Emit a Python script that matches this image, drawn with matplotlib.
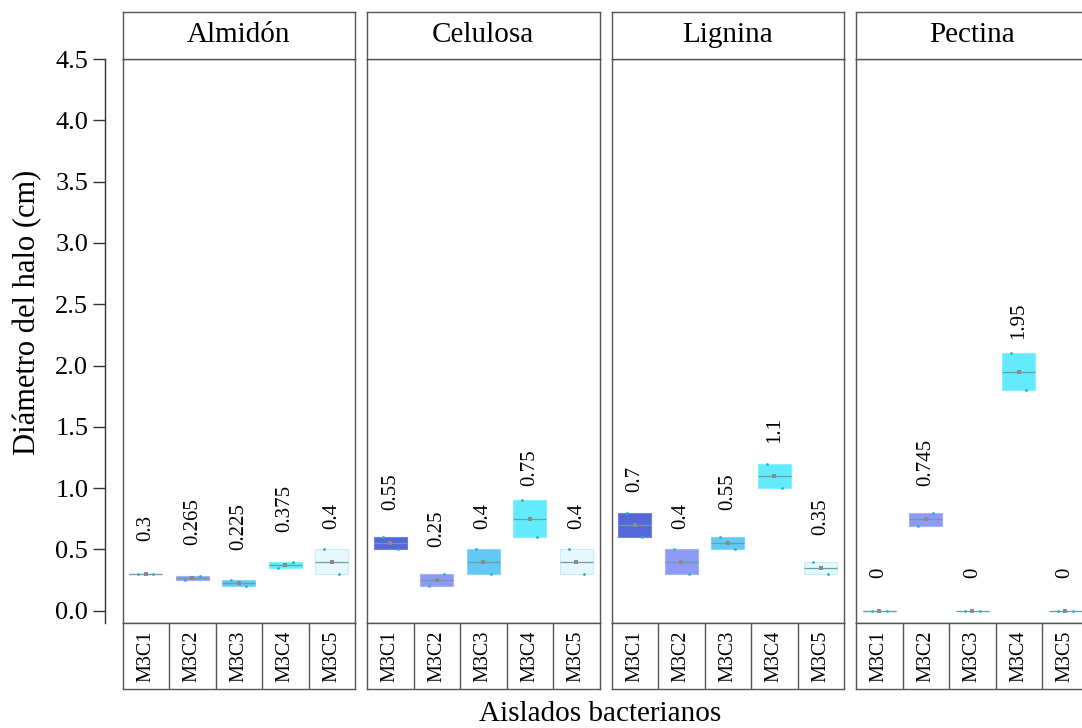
import numpy as np
import matplotlib
matplotlib.use("Agg")
import matplotlib.pyplot as plt

plt.rcParams["font.family"] = ["Liberation Serif", "DejaVu Serif"]

# Substrates (facets) and bacterial isolates
substrates = ["Almidón", "Celulosa", "Lignina", "Pectina"]
isolates = ["M3C1", "M3C2", "M3C3", "M3C4", "M3C5"]

# Halo diameter (cm), two replicates per isolate
rep1 = {
    "Almidón":  [0.30, 0.25, 0.25, 0.35, 0.50],
    "Celulosa": [0.60, 0.20, 0.50, 0.90, 0.50],
    "Lignina":  [0.80, 0.50, 0.60, 1.20, 0.40],
    "Pectina":  [0.00, 0.69, 0.00, 2.10, 0.00],
}
rep2 = {
    "Almidón":  [0.30, 0.28, 0.20, 0.40, 0.30],
    "Celulosa": [0.50, 0.30, 0.30, 0.60, 0.30],
    "Lignina":  [0.60, 0.30, 0.50, 1.00, 0.30],
    "Pectina":  [0.00, 0.80, 0.00, 1.80, 0.00],
}

y_ticks = [0.0, 0.5, 1.0, 1.5, 2.0, 2.5, 3.0, 3.5, 4.0, 4.5]

# Styling
fills = ["#5567d8", "#8d9bf5", "#62c9f4", "#62ebfd", "#e6f8fd"]
edges = ["#7381e0", "#a6b1f6", "#86d5f5", "#8aeffd", "#c2effb"]
median_col = "#6a9ea4"
mean_col = "#8a8a8a"
point_col = "#1fb4c8"
frame_col = "#555555"
jitter = [-0.16, 0.16]
box_w = 0.7

W, H = 1082, 728
fig = plt.figure(figsize=(W / 100, H / 100), dpi=100)


def fx(px):
    return px / W


def fy(px):
    return 1 - px / H


panel_top, panel_bot = 59, 623
strip_top = 12
lab_bot = 689
panel_w = 232.5
panel_left = [122.5, 367.0, 611.5, 856.0]
ylim = (-0.1, 4.5)

for s, left in zip(substrates, panel_left):
    # data panel
    ax = fig.add_axes([fx(left), fy(panel_bot), fx(panel_w), (panel_bot - panel_top) / H])
    x = np.arange(1, len(isolates) + 1)
    r1 = np.array(rep1[s])
    r2 = np.array(rep2[s])
    lo = np.minimum(r1, r2)
    hi = np.maximum(r1, r2)
    mean = np.round((r1 + r2) / 2, 3)
    ax.bar(x, hi - lo, bottom=lo, width=box_w, color=fills, edgecolor=edges,
           linewidth=0.8, zorder=2)
    ax.hlines(mean, x - box_w / 2, x + box_w / 2, color=median_col, lw=0.9, zorder=3)
    ax.scatter(x + jitter[0], r1, s=4, color=point_col, zorder=4, linewidths=0)
    ax.scatter(x + jitter[1], r2, s=4, color=point_col, zorder=4, linewidths=0)
    ax.scatter(x, mean, s=12, marker="s", color=mean_col, zorder=5, linewidths=0)
    for xi, m in zip(x, mean):
        ax.text(xi, m + 0.27, f"{m:g}", rotation=90, ha="center", va="bottom",
                fontsize=15)
    ax.set_xlim(0.5, len(isolates) + 0.5)
    ax.set_ylim(*ylim)
    ax.set_xticks([])
    ax.set_yticks([])
    for sp in ax.spines.values():
        sp.set_color(frame_col)
        sp.set_linewidth(1.0)

    # facet strip
    st = fig.add_axes([fx(left), fy(panel_top), fx(panel_w), (panel_top - strip_top) / H])
    st.set_xticks([])
    st.set_yticks([])
    for sp in st.spines.values():
        sp.set_color(frame_col)
        sp.set_linewidth(1.0)
    st.text(0.5, 0.5, s, ha="center", va="center", fontsize=21, transform=st.transAxes)

    # category label strip
    lb = fig.add_axes([fx(left), fy(lab_bot), fx(panel_w), (lab_bot - panel_bot) / H])
    lb.set_xlim(0.5, len(isolates) + 0.5)
    lb.set_ylim(0, 1)
    lb.set_xticks([])
    lb.set_yticks([])
    for sp in lb.spines.values():
        sp.set_color(frame_col)
        sp.set_linewidth(1.0)
    lb.vlines(np.arange(1.5, len(isolates)), 0, 1, color=frame_col, lw=1.0)
    for xi, name in zip(x, isolates):
        lb.text(xi, 0.5, name, rotation=90, ha="center", va="center", fontsize=14.5)

# stand-alone y axis
ay = fig.add_axes([fx(105), fy(panel_bot), 0.0001, (panel_bot - panel_top) / H])
ay.set_ylim(*ylim)
ay.set_xticks([])
for k in ["top", "right", "bottom"]:
    ay.spines[k].set_visible(False)
ay.spines["left"].set_color("#333333")
ay.spines["left"].set_linewidth(1.0)
ay.spines["left"].set_bounds(ylim[0], y_ticks[-1])
ay.set_yticks(y_ticks)
ay.set_yticklabels([f"{t:.1f}" for t in y_ticks], fontsize=19)
ay.tick_params(axis="y", length=9, width=1.0, color="#333333", pad=3)
ay.patch.set_visible(False)

fig.text(fx(28), fy(312), "Diámetro del halo (cm)", rotation=90, ha="center",
         va="center", fontsize=22)
fig.text(fx(600), fy(714), "Aislados bacterianos", ha="center", va="center",
         fontsize=21)

fig.savefig("out.png", dpi=100)
